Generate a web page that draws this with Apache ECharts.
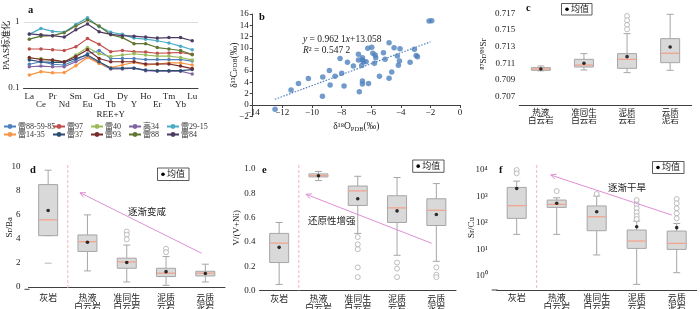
<!DOCTYPE html>
<html><head><meta charset="utf-8">
<script src="https://cdn.jsdelivr.net/npm/echarts@6/dist/echarts.min.js"></script>
<style>html,body{margin:0;padding:0;background:#fff}#c{width:700px;height:309px}</style>
</head><body><div id="c"></div>
<script>
const FONT = "'Liberation Serif','Noto Sans CJK SC',serif";

// ---------- Panel a : REE+Y PAAS-normalised ----------
const reeElements = ['La','Ce','Pr','Nd','Sm','Eu','Gd','Tb','Dy','Y','Ho','Er','Tm','Yb','Lu'];
const sampleNames = ['雷88-59-85','雷97','雷40','高34','雷29-15','雷14-35','雷37','雷93','雷88','雷84'];
const s_lei88_59_85 = [0.229,0.25,0.229,0.223,0.266,0.33,0.37,0.28,0.28,0.28,0.27,0.27,0.27,0.27,0.256];
const s_lei97       = [0.39,0.39,0.38,0.37,0.42,0.56,0.46,0.355,0.37,0.355,0.35,0.336,0.34,0.345,0.324];
const s_lei40       = [0.28,0.28,0.26,0.248,0.316,0.41,0.33,0.30,0.316,0.33,0.316,0.305,0.305,0.29,0.266];
const s_gao34       = [0.21,0.215,0.21,0.21,0.25,0.30,0.24,0.194,0.194,0.20,0.183,0.18,0.18,0.18,0.163];
const s_lei29_15    = [0.65,0.80,0.72,0.70,0.92,1.16,0.85,0.70,0.65,0.57,0.55,0.52,0.48,0.43,0.38];
const s_lei14_35    = [0.157,0.177,0.17,0.171,0.218,0.29,0.236,0.203,0.223,0.245,0.223,0.23,0.24,0.24,0.223];
const s_lei37       = [0.266,0.25,0.245,0.245,0.28,0.316,0.25,0.20,0.20,0.20,0.187,0.183,0.183,0.183,0.19];
const s_lei93       = [0.29,0.27,0.266,0.25,0.30,0.38,0.28,0.25,0.25,0.25,0.231,0.231,0.231,0.215,0.197];
const s_lei88       = [0.55,0.61,0.62,0.69,0.87,1.07,0.87,0.64,0.58,0.47,0.47,0.41,0.39,0.37,0.32];
const s_lei84       = [0.66,0.64,0.62,0.59,0.76,0.93,0.71,0.65,0.62,0.61,0.59,0.57,0.58,0.58,0.52];
const sampleSeries = [s_lei88_59_85,s_lei97,s_lei40,s_gao34,s_lei29_15,s_lei14_35,s_lei37,s_lei93,s_lei88,s_lei84];

// ---------- Panel b : d18O vs d13C ----------
const d18O = [-12.49,-11.41,-10.91,-10.24,-9.29,-9.27,-8.82,-8.77,-8.44,-8.10,-7.99,-7.83,-7.6,-7.2,-6.86,-6.86,-6.8,-6.64,-6.59,-6.59,-6.59,-6.59,-6.52,-6.34,-6.23,-6.18,-5.96,-5.89,-5.78,-5.73,-5.69,-5.44,-5.17,-5.06,-4.79,-4.79,-4.61,-4.45,-4.23,-4.16,-4.09,-4.05,-3.37,-3.08,-2.96,-2.87,-2.09,-1.91];
const d13C = [-0.76,2.64,3.75,4.63,1.52,4.92,6.04,3.52,5.04,8.15,5.57,3.34,7.5,6.86,8.9,7.9,2.34,6.92,8.32,7.9,4.22,3.7,7.6,7.6,9.96,3.75,10.14,9.08,7.33,8.8,8.32,5.04,9.2,8.03,10.96,4.69,5.8,10.08,8.62,6.98,7.74,9.9,7.5,9.79,8.68,8.5,14.77,14.83];
const trendX = [-12.5,-2.0];
const trendY = [0.99,11.1];

// ---------- Box panels ----------
const catsC = ['热液\n白云岩','准同生\n白云岩','泥质\n云岩','云质\n泥岩'];
const catsDEF = ['灰岩','热液\n白云岩','准同生\n白云岩','泥质\n云岩','云质\n泥岩'];
// [low whisker, Q1, median, Q3, high whisker]
const srBox = [[0.7101,0.71016,0.71032,0.71048,0.71068],[0.7102,0.71056,0.7108,0.71148,0.71216],[0.70988,0.7104,0.71148,0.71216,0.71456],[0.71016,0.71108,0.7122,0.71396,0.71688]];
const srMean = [0.71032,0.7110,0.7118,0.71296];
const srOut = [[2,0.71668],[2,0.71616],[2,0.7156],[2,0.71508]];

const srbaBox = [[4.27,4.27,5.59,8.52,9.72],[1.34,2.96,3.77,4.33,6.0],[0.42,1.56,2.09,2.40,3.49],[0.14,0.87,1.15,1.56,2.54],[0.42,0.92,1.15,1.31,1.90]];
const srbaLoneCap = [[0,1.98]];
const srbaMean = [6.37,3.72,2.04,1.28,1.12];
const srbaOut = [[2,4.61],[2,4.36],[2,3.97],[3,3.18],[3,2.9]];

const vniBox = [[0.05,0.23,0.39,0.47,0.56],[0.905,0.935,0.945,0.96,0.98],[0.47,0.70,0.82,0.86,0.94],[0.29,0.56,0.68,0.78,0.93],[0.24,0.535,0.66,0.755,0.88]];
const vniMean = [0.355,0.945,0.755,0.655,0.625];
const vniOut = [[2,0.44],[2,0.38],[2,0.34],[2,0.19],[2,0.11],[3,0.23],[3,0.18],[3,0.11],[4,0.19],[4,0.13],[4,0.11]];

const srcuBox = [[36.7,148,447,2200,3800],[36.7,385,500,730,890],[6.1,50.5,170,437,1040],[0.47,10.8,20.5,53.6,117],[1.3,9.9,16.7,49,95]];
const srcuMean = [2000,550,264,71.6,66];
const srcuOut = [[0,10000],[0,7500],[1,1600],[2,1240],[3,730],[3,500],[3,355],[3,250],[3,181],[3,140],[4,800],[4,550],[4,355],[4,230],[4,148]];

// ---------- styles ----------
const sampleColors = ['#4f81bd','#c0504d','#9bbb59','#8064a2','#4bacc6','#f79646','#2c4d75','#772c2a','#5f7530','#4d3b62'];
const AX = '#404040', TXT = '#222', BOXC = '#a6a6a6';
const axisLine = {lineStyle:{color:AX, width:1}};
const lbl = (fs) => ({fontSize:fs, fontFamily:FONT, color:TXT});
const minus = v => String(v).replace('-', '\u2212');

function boxRender(params, api){
  const i = api.value(0);
  const lo = api.coord([i, api.value(1)]), q1 = api.coord([i, api.value(2)]),
        md = api.coord([i, api.value(3)]), q3 = api.coord([i, api.value(4)]), hi = api.coord([i, api.value(5)]);
  const cx = lo[0], w = 19, cw = 7, st = {stroke:BOXC, lineWidth:1};
  return {type:'group', children:[
    {type:'line', shape:{x1:cx,y1:hi[1],x2:cx,y2:q3[1]}, style:st},
    {type:'line', shape:{x1:cx,y1:q1[1],x2:cx,y2:lo[1]}, style:st},
    {type:'line', shape:{x1:cx-cw/2,y1:hi[1],x2:cx+cw/2,y2:hi[1]}, style:st},
    {type:'line', shape:{x1:cx-cw/2,y1:lo[1],x2:cx+cw/2,y2:lo[1]}, style:st},
    {type:'rect', shape:{x:cx-w/2,y:q3[1],width:w,height:Math.max(q1[1]-q3[1],1)}, style:{fill:'#d9d9d9', stroke:BOXC, lineWidth:1}},
    {type:'line', shape:{x1:cx-w/2+0.5,y1:md[1],x2:cx+w/2-0.5,y2:md[1]}, style:{stroke:'#f4a08a', lineWidth:1.2}}
  ]};
}
function boxSeries(ax, box, mean, out){
  return [
    {type:'custom', xAxisIndex:ax, yAxisIndex:ax, renderItem:boxRender, data:box.map((b,i)=>[i].concat(b)), encode:{x:0,y:[1,2,3,4,5]}, z:2, silent:true},
    {type:'scatter', xAxisIndex:ax, yAxisIndex:ax, data:out, symbol:'circle', symbolSize:5, itemStyle:{color:'#fff', borderColor:BOXC, borderWidth:0.9}, z:3, silent:true},
    {type:'scatter', xAxisIndex:ax, yAxisIndex:ax, data:mean.map((m,i)=>[i,m]), symbol:'circle', symbolSize:3.6, itemStyle:{color:'#000'}, z:4, silent:true}
  ];
}
function catAxis(grid, cats, fs, lh, margin){
  return {type:'category', gridIndex:grid, data:cats, boundaryGap:true, axisLine, axisTick:{show:false},
    axisLabel:Object.assign(lbl(fs), {interval:0, lineHeight:lh, margin:margin})};
}

const grids = [
  {left:23.5, right:502, top:3, bottom:221},
  {left:252.7, right:240, top:14, bottom:192.7},
  {left:519.3, right:8.3, top:3.3, bottom:204},
  {left:28.5, width:196.5, top:165, bottom:19.7},
  {left:259.5, width:196.5, top:165, bottom:18.5},
  {left:496.7, width:200, top:165, bottom:19}
].map(g=>Object.assign(g,{outerBoundsMode:'none', containLabel:false}));

const yName = {nameLocation:'middle', nameMoveOverlap:false};
const xAxes = [
  {type:'category', gridIndex:0, data:reeElements, boundaryGap:true, axisLine, axisTick:{show:false},
   axisLabel:Object.assign(lbl(9), {interval:0, lineHeight:8, margin:4.5, formatter:(v,i)=> i%2 ? '\n'+v : v}),
   name:'REE+Y', nameLocation:'middle', nameMoveOverlap:false, nameGap:22.5, nameTextStyle:lbl(9)},
  {type:'value', gridIndex:1, min:-14, max:0, interval:2, offset:-11.3, axisLine:{onZero:false, lineStyle:{color:AX}}, axisTick:{length:3, lineStyle:{color:AX}},
   splitLine:{show:false}, axisLabel:Object.assign(lbl(9), {margin:3, formatter:minus}),
   name:'δ¹⁸O{s|PDB}(‰)', nameLocation:'middle', nameMoveOverlap:false, nameGap:16, nameTextStyle:Object.assign(lbl(9.5), {rich:{s:{fontSize:6.5, fontFamily:FONT, color:TXT, padding:[5,0,0,0]}}})},
  catAxis(2, catsC, 8.5, 8, 4),
  catAxis(3, catsDEF, 9, 9, 4.5),
  catAxis(4, catsDEF, 9, 9, 4.5),
  catAxis(5, catsDEF, 9, 9, 4.5)
];

const yAxes = [
  Object.assign({type:'log', gridIndex:0, min:0.1, max:1.94, logBase:10, axisLine, axisTick:{length:3, lineStyle:{color:AX}, customValues:[0.1,1]},
   axisLabel:Object.assign(lbl(9), {margin:4, customValues:[0.1,1], formatter:v=> v>=1?'1':'0.1'}),
   splitLine:{show:true, lineStyle:{color:'#dcdcdc', width:1}},
   name:'PAAS标准化', nameGap:12, nameTextStyle:lbl(9)}, yName),
  Object.assign({type:'value', gridIndex:1, min:-2, max:16, interval:2, axisLine:{onZero:false, lineStyle:{color:AX}}, axisTick:{length:3, lineStyle:{color:AX}},
   splitLine:{show:false}, axisLabel:Object.assign(lbl(9), {margin:4, formatter:minus}),
   name:'δ¹³C{s|PDB}(‰)', nameGap:13, nameTextStyle:Object.assign(lbl(9.5), {rich:{s:{fontSize:6.5, fontFamily:FONT, color:TXT}}})}, yName),
  Object.assign({type:'value', gridIndex:2, min:0.706, max:0.7182, axisLine, splitLine:{show:false},
   axisTick:{length:3, lineStyle:{color:AX}, customValues:[0.707,0.709,0.711,0.713,0.715,0.717]},
   axisLabel:Object.assign(lbl(9), {margin:4, customValues:[0.707,0.709,0.711,0.713,0.715,0.717], formatter:v=>v.toFixed(3)}),
   name:'⁸⁷Sr/⁸⁶Sr', nameGap:31, nameTextStyle:lbl(9)}, yName),
  Object.assign({type:'value', gridIndex:3, min:-0.19, max:10.15, offset:4, axisLine, splitLine:{show:false},
   axisTick:{length:3, lineStyle:{color:AX}, customValues:[0,2,4,6,8,10]},
   axisLabel:Object.assign(lbl(9), {margin:4, customValues:[0,2,4,6,8,10]}),
   name:'Sr/Ba', nameGap:10, nameTextStyle:lbl(9)}, yName),
  Object.assign({type:'value', gridIndex:4, min:0, max:1.033, axisLine, splitLine:{show:false},
   axisTick:{length:3, lineStyle:{color:AX}, customValues:[0,0.2,0.4,0.6,0.8,1.0]},
   axisLabel:Object.assign(lbl(9), {margin:4, customValues:[0,0.2,0.4,0.6,0.8,1.0], formatter:v=>v.toFixed(1)}),
   name:'V/(V+Ni)', nameGap:18, nameTextStyle:lbl(9)}, yName),
  Object.assign({type:'log', gridIndex:5, min:0.288, max:15500, logBase:10, offset:5, axisLine, splitLine:{show:false},
   axisTick:{length:3, lineStyle:{color:AX}, customValues:[1,10,100,1000,10000]},
   axisLabel:Object.assign(lbl(9), {margin:4, customValues:[1,10,100,1000,10000], formatter:v=>'10'+['⁰','¹','²','³','⁴'][Math.round(Math.log10(v))]}),
   name:'Sr/Cu', nameGap:15.5, nameTextStyle:lbl(9)}, yName)
];

const series = [];
sampleNames.forEach((n,k)=>{
  series.push({name:n, type:'line', xAxisIndex:0, yAxisIndex:0, data:sampleSeries[k], symbol:'circle', symbolSize:3.5,
    color:sampleColors[k], lineStyle:{width:1.2}, z:2, silent:true});
});
series.push({type:'scatter', xAxisIndex:1, yAxisIndex:1, data:d18O.map((x,i)=>[x,d13C[i]]), symbolSize:5.5, itemStyle:{color:'#4f81bd'}, z:3, silent:true});
series.push({type:'line', xAxisIndex:1, yAxisIndex:1, data:trendX.map((x,i)=>[x,trendY[i]]), symbol:'none', lineStyle:{color:'#4f81bd', width:1.2, type:[1.5,1.5]}, z:2, silent:true});
series.push(...boxSeries(2, srBox, srMean, srOut));
series.push(...boxSeries(3, srbaBox, srbaMean, srbaOut));
series.push({type:'scatter', xAxisIndex:3, yAxisIndex:3, data:srbaLoneCap, symbol:'rect', symbolSize:[7,1], itemStyle:{color:BOXC}, z:3, silent:true});
series.push(...boxSeries(4, vniBox, vniMean, vniOut));
series.push(...boxSeries(5, srcuBox, srcuMean, srcuOut));

const legCols = [3, 52, 90, 128, 166];
const legends = sampleNames.map((n,i)=>({data:[n], left:legCols[i%5], top: i<5 ? 122.5 : 130.5, orient:'horizontal',
  itemWidth:12, itemHeight:6, itemGap:0, padding:0, selectedMode:false,
  textStyle:{fontSize:8, fontFamily:FONT, color:'#333', padding:[0,0,0,-3]}}));

const chart = echarts.init(document.getElementById('c'), null, {renderer:'canvas', width:700, height:309});
chart.setOption({animation:false, grid:grids, xAxis:xAxes, yAxis:yAxes, legend:legends, series:series});

// ----- annotations -----
function txt(x,y,t,fs){ return {type:'text', x:x, y:y, style:{text:t, fontSize:fs, fontFamily:FONT, fill:TXT, align:'left', verticalAlign:'middle'}}; }
function panelLetter(x,y,t){ return {type:'text', x:x, y:y, style:{text:t, fontSize:10.5, fontWeight:'bold', fontFamily:FONT, fill:'#111', verticalAlign:'middle'}}; }
function meanLegend(x,y,w,h){ return [
  {type:'rect', shape:{x:x,y:y,width:w,height:h}, style:{fill:'#fff', stroke:'#333', lineWidth:0.8}, z:10},
  {type:'circle', shape:{cx:x+5.5, cy:y+h/2, r:1.8}, style:{fill:'#000'}, z:11},
  {type:'text', x:x+9.5, y:y+h/2+0.5, style:{text:'均值', fontSize:9, fontFamily:FONT, fill:TXT, verticalAlign:'middle'}, z:11}
];}
function arrow(x1,y1,x2,y2,color){
  const a = Math.atan2(y1-y2, x1-x2), L = 6, s = 0.45;
  return [
    {type:'line', shape:{x1:x1,y1:y1,x2:x2,y2:y2}, style:{stroke:color, lineWidth:1}, z:5},
    {type:'polyline', shape:{points:[[x2+L*Math.cos(a+s), y2+L*Math.sin(a+s)],[x2,y2],[x2+L*Math.cos(a-s), y2+L*Math.sin(a-s)]]}, style:{stroke:color, lineWidth:1, fill:null}, z:5}
  ];
}
const AR = '#dd8fd4', SEP = '#f2b6bf';
const g = [];
g.push(panelLetter(28,10,'a'), panelLetter(259,17,'b'), panelLetter(526,8,'c'), panelLetter(30,170,'d'), panelLetter(262,170,'e'), panelLetter(499,170,'f'));
g.push({type:'text', x:303, y:39, style:{text:'{i|y} = 0.962 1{i|x}+13.058', fontSize:9.5, fontFamily:FONT, fill:TXT, verticalAlign:'middle',
  rich:{i:{fontStyle:'italic', fontSize:9.5, fontFamily:FONT, fill:TXT}}}});
g.push({type:'text', x:303, y:50, style:{text:'{i|R}² = 0.547 2', fontSize:9.5, fontFamily:FONT, fill:TXT, verticalAlign:'middle',
  rich:{i:{fontStyle:'italic', fontSize:9.5, fontFamily:FONT, fill:TXT}}}});
g.push(...meanLegend(561.5,3.5,30.5,11.5), ...meanLegend(157.5,168,31.5,12.5), ...meanLegend(412.7,160,31.3,12.3), ...meanLegend(652.5,161.5,31.5,12));
[[3,24.5],[4,null],[5,491.7]].forEach(([ax,yx])=>{
  const p0 = chart.convertToPixel({xAxisIndex:ax}, 0), p1 = chart.convertToPixel({xAxisIndex:ax}, 1);
  const xm = (p0+p1)/2;
  const gr = grids[ax];
  const top = gr.top, bot = 309 - gr.bottom;
  g.push({type:'line', shape:{x1:xm,y1:top,x2:xm,y2:bot}, style:{stroke:SEP, lineWidth:1, lineDash:[3,2]}, z:1});
  if (yx !== null) g.push({type:'line', shape:{x1:yx,y1:bot,x2:gr.left+1,y2:bot}, style:{stroke:AX, lineWidth:1}, z:1});
});
g.push(...arrow(201.7,253.3,80,192.7,AR), ...arrow(431.7,243.3,306,194.3,AR), ...arrow(671.7,215,550.7,175,AR));
g.push(txt(128,212.3,'逐渐变咸',9.5), txt(308,221,'还原性增强',9.5), txt(608,188.3,'逐渐干旱',9.5));
chart.setOption({graphic:g});
</script></body></html>
